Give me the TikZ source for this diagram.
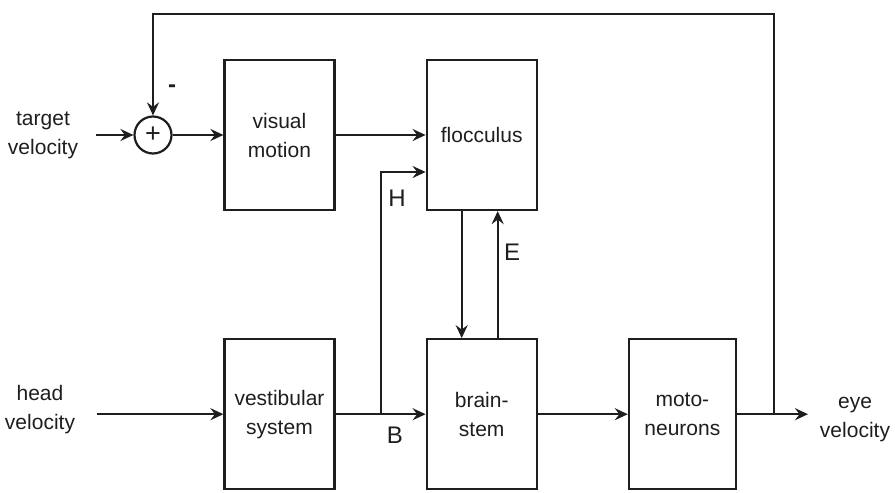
\documentclass[tikz,border=0pt]{standalone}
\usepackage{fontspec}
\setmainfont{Liberation Sans}
\usetikzlibrary{arrows.meta, positioning, calc}
\definecolor{ink}{HTML}{1E1E1E}
\tikzset{
  blk/.style={draw=ink, line width=2.2pt, minimum width=110pt, minimum height=150pt, align=center, font=\fontsize{21}{29}\selectfont, text=ink, inner sep=2pt},
  sum/.style={draw=ink, line width=2.2pt, circle, minimum size=37pt, inner sep=0pt, font=\fontsize{27}{27}\selectfont, text=ink},
  txt/.style={align=center, font=\fontsize{21}{29}\selectfont, text=ink},
  lbl/.style={font=\fontsize{24}{24}\selectfont, text=ink, inner sep=0pt},
  a/.style={-{Stealth[length=13pt, width=12pt, inset=4.5pt]}, draw=ink, line width=2.2pt},
}

\begin{document}
\begin{tikzpicture}[x=1pt, y=-1pt, node distance=90pt]
\useasboundingbox (0,0) rectangle (895,493);
% upper row
\node[blk] (vis) at (279.5,135) {visual\\motion};
\node[blk, right=90pt of vis] (floc) {flocculus};
\node[sum] (sum) at (153,135) {+};
\node[txt] (tgt) at (43,135) {target\\velocity};
\node[lbl] (minus) at (172,89) {\textbf{-}};
% lower row
\node[blk, below=127pt of floc] (brain) {brain-\\stem};
\node[blk, left=90pt of brain] (vest) {vestibular\\system};
\node[blk, right=90pt of brain, minimum width=107pt] (moto) {moto-\\neurons};
\node[txt] (head) at (40,410) {head\\velocity};
\node[txt] (eye) at (855,420) {eye\\velocity};
% taps
\coordinate (hb) at ($(vest.east)+(45,0)$);
\coordinate (hin) at ($(floc.west)+(0,37)$);
\coordinate (tap) at ($(moto.east)+(37,0)$);
\coordinate (fb) at ($(tap)+(0,-400)$);
\coordinate (out) at ($(moto.east)+(71,0)$);
% labels
\node[lbl] (H) at (397,198) {H};
\node[lbl] (B) at (395,435) {B};
\node[lbl] (E) at (512,252) {E};

\draw[a] ($(tgt.east)+(14,0)$) -- (sum.west);
\draw[a] (sum.east) -- (vis.west);
\draw[a] (vis.east) -- (floc.west);
\draw[a] ($(head.east |- vest.west)+(18,0)$) -- (vest.west);
\draw[a] (vest.east) -- (brain.west);
\draw[a] (hb) |- (hin);
\draw[a] ([xshift=-20pt]floc.south) -- ([xshift=-20pt]brain.north);
\draw[a] ([xshift=16pt]brain.north) -- ([xshift=16pt]floc.south);
\draw[a] (brain.east) -- (moto.west);
\draw[a] (moto.east) -- (out);
\draw[a] (tap) -- (fb) -| (sum.north);
\end{tikzpicture}
\end{document}
